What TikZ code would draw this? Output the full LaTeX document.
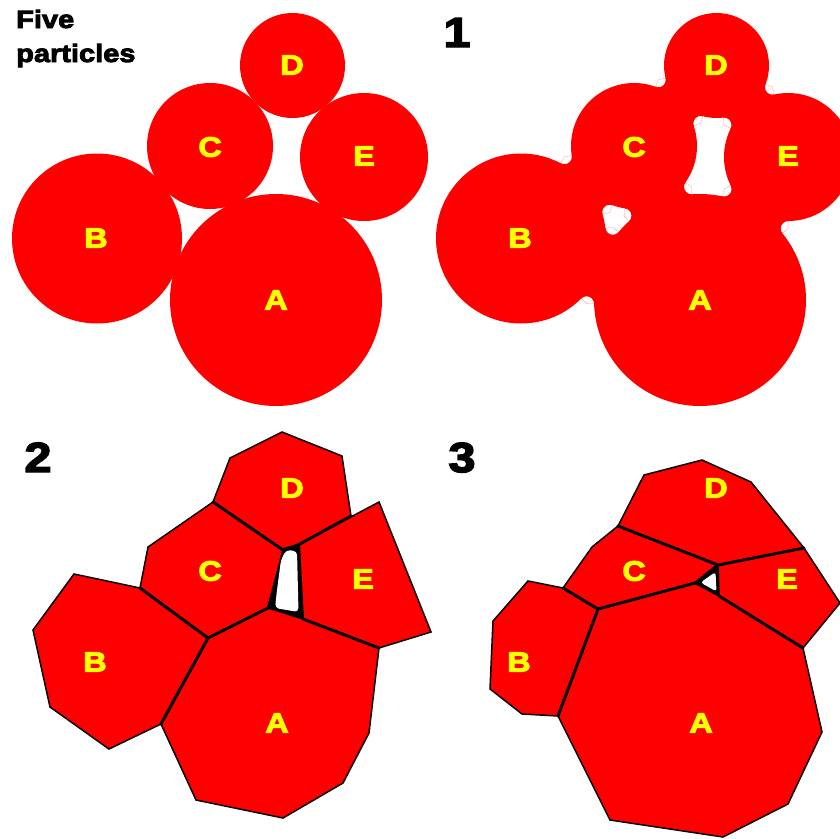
\documentclass[tikz,border=0pt]{standalone}
\usepackage{fontspec}
\newfontfamily\heavy[FakeBold=3.5,FakeStretch=1.16]{Liberation Sans Bold}
\usetikzlibrary{intersections}
\definecolor{pred}{RGB}{255,0,0}
\definecolor{pyel}{RGB}{255,255,0}
\tikzset{
  lab/.style={text=pyel,inner sep=0pt,font=\heavy\fontsize{28}{28}\selectfont},
  num/.style={text=black,inner sep=0pt,anchor=base,font=\heavy\fontsize{42}{42}\selectfont},
  ttl/.style={text=black,inner sep=0pt,anchor=base west,font=\heavy\fontsize{25}{26}\selectfont},
  cell/.style={fill=pred,draw=black,line width=1.5pt,line join=miter},
  inner/.style={draw=black,line width=3pt,line cap=round},
}
\def\dd{7.5}
\newcommand{\mkfillet}[4]{%
  \path[name path=fa] (#1) circle[radius=#2+\dd];
  \path[name path=fb] (#3) circle[radius=#4+\dd];
  \path[name intersections={of=fa and fb, name=I}];
  \foreach \k in {1,2}{
    \begin{scope}
      \clip (#1) -- (I-\k) -- (#3) -- cycle;
      \fill[pred, even odd rule] (#1) -- (I-\k) -- (#3) -- cycle (I-\k) circle[radius=\dd];
    \end{scope}
  }
}
\begin{document}
\begin{tikzpicture}[x=1pt,y=-1pt]
\useasboundingbox (0,0) rectangle (840,838);
% ---------- panel 0 : five particles ----------
\foreach \n/\x/\y/\r in {A/276/300/106, B/97/238.5/85, C/210/146/63, D/292.5/65.5/52.5, E/364/157/64}{
  \fill[pred] (\x,\y) circle[radius=\r];
}
\node[ttl] (t1) at (16,28) {Five};
\node[ttl] (t2) at (16,62) {particles};
\node[lab] (a0) at (276,300) {A};
\node[lab] (b0) at (96,238) {B};
\node[lab] (c0) at (210,147) {C};
\node[lab] (d0) at (292,65) {D};
\node[lab] (e0) at (364,156) {E};
% ---------- panel 1 : closed union ----------
\coordinate (A1) at (700,300);
\coordinate (B1) at (521,238.5);
\coordinate (C1) at (634,146);
\coordinate (D1) at (716.5,65.5);
\coordinate (E1) at (788,157);
\mkfillet{C1}{63}{D1}{52.5}
\mkfillet{D1}{52.5}{E1}{64}
\mkfillet{E1}{64}{A1}{106}
\mkfillet{A1}{106}{C1}{63}
\mkfillet{B1}{85}{C1}{63}
\mkfillet{B1}{85}{A1}{106}
\fill[pred] (A1) circle[radius=106];
\fill[pred] (B1) circle[radius=85];
\fill[pred] (C1) circle[radius=63];
\fill[pred] (D1) circle[radius=52.5];
\fill[pred] (E1) circle[radius=64];
\node[num] (n1) at (457,47) {1};
\node[lab] (a1) at (700,300) {A};
\node[lab] (b1) at (520,238) {B};
\node[lab] (c1) at (634,147) {C};
\node[lab] (d1) at (716,65) {D};
\node[lab] (e1) at (788,156) {E};
% ---------- panel 2 ----------
\draw[cell] (208,638) -- (268,608) -- (303,619) -- (379,648) -- (369,733) -- (343,783) -- (283,818) -- (196,800) -- (161,724) -- cycle;
\draw[cell] (161,724) -- (208,638) -- (140,588) -- (74,574) -- (33,630) -- (50,707) -- (109,749) -- cycle;
\draw[cell] (140,588) -- (148,547) -- (213,502) -- (283,550) -- (268,608) -- (208,638) -- cycle;
\draw[cell] (213,502) -- (230,458) -- (282,432) -- (342,456) -- (351,516) -- (298,545) -- (283,550) -- cycle;
\draw[cell] (298,545) -- (379,502) -- (431,632) -- (379,648) -- (303,619) -- cycle;
\fill[black] (283,548) -- (300,543) -- (304,620) -- (267,607) -- cycle;
\fill[white,rounded corners=4pt] (281,560) -- (286,550) -- (297,551) -- (298.5,612) -- (275,608) -- (277,590) -- cycle;
\draw[inner] (161,724) -- (208,638) -- (268,608);
\draw[inner] (140,588) -- (208,638);
\draw[inner] (213,502) -- (283,550);
\draw[inner] (298,545) -- (351,516);
\draw[inner] (303,619) -- (379,648);
\node[num] (n2) at (38,472) {2};
\node[lab] (a2) at (277,723) {A};
\node[lab] (b2) at (95,662) {B};
\node[lab] (c2) at (210,571) {C};
\node[lab] (d2) at (292,488) {D};
\node[lab] (e2) at (363,579) {E};
% ---------- panel 3 ----------
\draw[cell] (598,609) -- (695,583) -- (719,596) -- (803,648) -- (822,732) -- (788,804) -- (723,837) -- (610,820) -- (558,716) -- cycle;
\draw[cell] (558,716) -- (598,609) -- (563,588) -- (528,581) -- (493,621) -- (490,689) -- (522,714) -- cycle;
\draw[cell] (563,588) -- (592,547) -- (618,526) -- (718,565) -- (695,583) -- (598,609) -- cycle;
\draw[cell] (618,526) -- (644,475) -- (702,460) -- (751,482) -- (804,548) -- (718,565) -- cycle;
\draw[cell] (718,565) -- (804,548) -- (840,603) -- (803,648) -- (719,596) -- cycle;
\fill[black] (693,583) -- (718,563) -- (719.5,597) -- cycle;
\fill[white,rounded corners=3pt] (700.5,582.5) -- (715.5,572) -- (716.5,591.5) -- cycle;
\draw[inner] (558,716) -- (598,609) -- (695,583);
\draw[inner] (563,588) -- (598,609);
\draw[inner] (618,526) -- (718,565) -- (804,548);
\draw[inner] (719,596) -- (803,648);
\node[num] (n3) at (462,472) {3};
\node[lab] (a3) at (701,723) {A};
\node[lab] (b3) at (519,662) {B};
\node[lab] (c3) at (634,571) {C};
\node[lab] (d3) at (716,488) {D};
\node[lab] (e3) at (787,579) {E};
\end{tikzpicture}
\end{document}
